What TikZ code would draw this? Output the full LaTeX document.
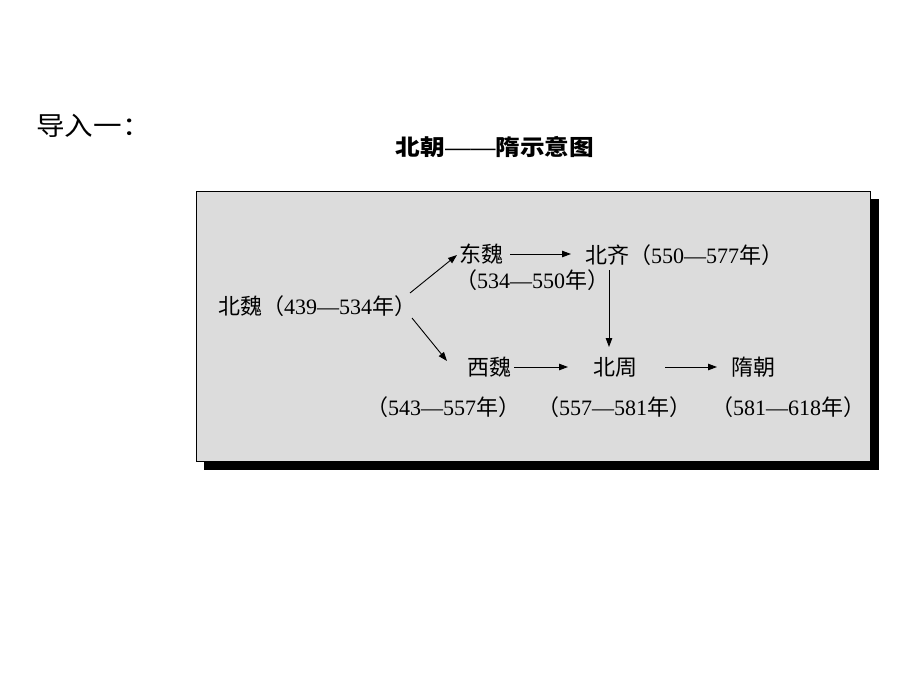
\documentclass[tikz,border=0pt]{standalone}
\usepackage{fontspec}
\setmainfont{Liberation Serif}
\newfontfamily\cjk{Noto Sans CJK SC}
\newfontfamily\cjkwide[FakeStretch=1.1]{Noto Sans CJK SC}
\newfontfamily\cjktitle[FakeStretch=1.12]{Noto Sans CJK SC}
\newfontfamily\titledash[FakeStretch=1.15]{Liberation Sans}
\usetikzlibrary{arrows.meta}
\definecolor{boxgray}{RGB}{220,220,220}
\newcommand{\fwc}[1]{\makebox[1em][l]{\cjk #1}}
\newcommand{\yr}[2]{\fwc{（}#1\makebox[1em][c]{—}#2\fwc{年}\fwc{）}}
\tikzset{
  lbl/.style={anchor=west,inner sep=0pt,font=\fontsize{22}{25}\selectfont},
  arr/.style={-{Triangle[length=9pt,width=6.5pt]},line width=0.9pt},
}
\begin{document}
\begin{tikzpicture}[x=1pt,y=-1pt]
\useasboundingbox (0,0) rectangle (920,690);
% heading
\node[anchor=west,inner sep=0pt,font=\cjkwide\fontsize{26}{29}\selectfont] (intro) at (36,126) {导入一：};
\node[inner sep=0pt,font=\fontsize{22}{25}\selectfont] (title) at (495,147) {{\cjktitle\bfseries 北朝}{\titledash ——}{\cjktitle\bfseries 隋示意图}};
% box with shadow
\fill[black] (204,199) rectangle (879,470);
\draw[fill=boxgray,line width=0.8pt] (196,191) rectangle (870,461);
% nodes
\node[lbl] (bw) at (218,306) {\fwc{北}\fwc{魏}\yr{439}{534}};
\node[lbl] (dw) at (459,254) {\fwc{东}\fwc{魏}};
\node[lbl] (dwy) at (455,280) {\yr{534}{550}};
\node[lbl] (bq) at (585,255) {\fwc{北}\fwc{齐}\yr{550}{577}};
\node[lbl] (xw) at (467,367) {\fwc{西}\fwc{魏}};
\node[lbl] (bz) at (593,367) {\fwc{北}\fwc{周}};
\node[lbl] (sc) at (731,367) {\fwc{隋}\fwc{朝}};
\node[lbl] (xwy) at (366,407) {\yr{543}{557}};
\node[lbl] (bzy) at (537,407) {\yr{557}{581}};
\node[lbl] (scy) at (711,407) {\yr{581}{618}};
% connector ends
\coordinate (bwU) at (410,293);
\coordinate (dwIn) at (457,255);
\coordinate (bwD) at (412,318);
\coordinate (xwIn) at (447,361);
\coordinate (dwOut) at (510,254);
\coordinate (bqIn) at (571,254);
\coordinate (bqOut) at (609,270);
\coordinate (bzTop) at (609,347);
\coordinate (xwOut) at (514,367);
\coordinate (bzIn) at (568,367);
\coordinate (bzOut) at (665,367);
\coordinate (scIn) at (717,367);
% connectors
\draw[arr] (bwU) -- (dwIn);
\draw[arr] (bwD) -- (xwIn);
\draw[arr] (dwOut) -- (bqIn);
\draw[arr] (bqOut) -- (bzTop);
\draw[arr] (xwOut) -- (bzIn);
\draw[arr] (bzOut) -- (scIn);
\end{tikzpicture}
\end{document}
